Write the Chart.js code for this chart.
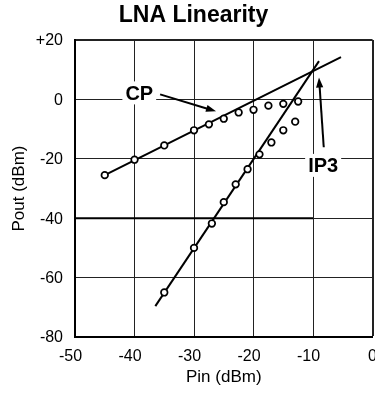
<!DOCTYPE html>
<html><head><meta charset="utf-8">
<script src="https://cdn.jsdelivr.net/npm/chart.js@4/dist/chart.umd.min.js"></script>
<style>html,body{margin:0;padding:0;background:#fff;overflow:hidden}canvas{display:block}</style>
</head><body>
<canvas id="c" width="387" height="393"></canvas>
<script>
// Fundamental output (measured points)
const pinFund  = [-45, -40, -35, -30, -27.5, -25, -22.5, -20, -17.5, -15, -12.5];
const poutFund = [-25.5, -20.3, -15.5, -10.4, -8.4, -6.5, -4.4, -3.5, -2.1, -1.5, -0.7];
// Third-order intermod output (measured points)
const pinIM3  = [-35, -30, -27, -25, -23, -21, -19, -17, -15, -13];
const poutIM3 = [-65, -50, -41.8, -34.6, -28.6, -23.5, -18.5, -14.5, -10.4, -7.5];
// Extrapolated straight-line fits
const fundFitX = [-45, -5.3];
const fundFitY = [-25.5, 14.2];
const im3FitX  = [-36.5, -9];
const im3FitY  = [-69.6, 12.9];
// Heavy reference line at -40 dBm
const refX = [-50, -10];
const refY = [-40, -40];
// Axis ticks
const xTicks = [-50, -40, -30, -20, -10, 0];
const yTicks = [-80, -60, -40, -20, 0, 20];
// Annotation labels (data coordinates)
const labelText = ['CP', 'IP3'];
const labelAt   = [[-39.2, 2.36], [-8.3, -22.05]];
const arrowFrom = [[-35.7, 1.7], [-8.2, -16.1]];
const arrowTo   = [[-26.3, -4.0], [-9.0, 7.4]];

const FAM = '"Liberation Sans", Arial, Helvetica, sans-serif';
const pts = (xs, ys) => xs.map((v, i) => ({x: v, y: ys[i]}));

const annotPlugin = {
  id: 'annot',
  afterDatasetsDraw(chart) {
    const {ctx, scales: {x, y}} = chart;
    ctx.save();
    labelText.forEach((t, i) => {
      const px = x.getPixelForValue(labelAt[i][0]);
      const py = y.getPixelForValue(labelAt[i][1]);
      const fs = 20;
      ctx.font = 'bold ' + fs + 'px ' + FAM;
      const w = ctx.measureText(t).width;
      ctx.fillStyle = '#fff';
      ctx.fillRect(px - w / 2 - 3, py - 11, w + 6, 23);
      ctx.fillStyle = '#000';
      ctx.textAlign = 'center';
      ctx.textBaseline = 'alphabetic';
      ctx.fillText(t, px, py + 0.36 * fs);
      // arrow
      const x0 = x.getPixelForValue(arrowFrom[i][0]), y0 = y.getPixelForValue(arrowFrom[i][1]);
      const x1 = x.getPixelForValue(arrowTo[i][0]),   y1 = y.getPixelForValue(arrowTo[i][1]);
      const ang = Math.atan2(y1 - y0, x1 - x0);
      const hl = 10, hw = 3.6;
      const bx = x1 - hl * Math.cos(ang), by = y1 - hl * Math.sin(ang);
      ctx.strokeStyle = '#000';
      ctx.lineWidth = 2;
      ctx.beginPath(); ctx.moveTo(x0, y0); ctx.lineTo(bx + Math.cos(ang), by + Math.sin(ang)); ctx.stroke();
      ctx.beginPath();
      ctx.moveTo(x1, y1);
      ctx.lineTo(bx - hw * Math.sin(ang), by + hw * Math.cos(ang));
      ctx.lineTo(bx + hw * Math.sin(ang), by - hw * Math.cos(ang));
      ctx.closePath(); ctx.fillStyle = '#000'; ctx.fill();
    });
    ctx.restore();
  }
};

const circleStyle = {showLine: false, pointRadius: 3.3, pointBorderWidth: 1.7,
  pointBackgroundColor: '#fff', pointBorderColor: '#000', pointStyle: 'circle'};
const lineStyle = {showLine: true, pointRadius: 0, borderColor: '#000', borderWidth: 2, fill: false, tension: 0};

new Chart(document.getElementById('c'), {
  type: 'scatter',
  data: {
    datasets: [
      Object.assign({label: 'Fundamental', data: pts(pinFund, poutFund)}, circleStyle),
      Object.assign({label: 'IM3', data: pts(pinIM3, poutIM3)}, circleStyle),
      Object.assign({label: 'Fund fit', data: pts(fundFitX, fundFitY)}, lineStyle),
      Object.assign({label: 'IM3 fit', data: pts(im3FitX, im3FitY)}, lineStyle),
      Object.assign({label: 'Ref', data: pts(refX, refY)}, lineStyle)
    ]
  },
  options: {
    responsive: false, animation: false, events: [],
    layout: {padding: {left: 11, right: 11, top: 0, bottom: 0}},
    plugins: {
      legend: {display: false}, tooltip: {enabled: false},
      title: {display: true, text: 'LNA Linearity', color: '#000',
        font: {family: FAM, size: 23, weight: 'bold', lineHeight: 1.2},
        padding: {top: 2, bottom: 10.4}}
    },
    scales: {
      x: {
        type: 'linear', min: -50, max: 0,
        afterBuildTicks: s => { s.ticks = xTicks.map(v => ({value: v})); },
        ticks: {color: '#000', font: {family: FAM, size: 16}, padding: 10, labelOffset: 0,
          maxRotation: 0, autoSkip: false,
          callback: v => v < 0 ? String(v) + '\u00a0\u00a0' : String(v)},
        grid: {color: '#222', drawTicks: false, lineWidth: c => (c.tick && c.tick.value === 0) ? 2 : 1},
        border: {color: '#000', width: 2},
        title: {display: true, text: 'Pin (dBm)', color: '#000',
          font: {family: FAM, size: 17, lineHeight: 1.2}, padding: {top: 0, bottom: 5}},
        afterFit: s => { s.height = 56; }
      },
      y: {
        type: 'linear', min: -80, max: 20,
        afterBuildTicks: s => { s.ticks = yTicks.map(v => ({value: v})); },
        ticks: {color: '#000', font: {family: FAM, size: 16}, padding: 12, labelOffset: 1,
          callback: v => v > 0 ? '+' + v : String(v)},
        grid: {color: '#222', drawTicks: false, lineWidth: c => (c.tick && c.tick.value === 20) ? 2 : 1},
        border: {color: '#000', width: 2},
        title: {display: true, text: 'Pout (dBm)', color: '#000',
          font: {family: FAM, size: 17, lineHeight: 1}, padding: {top: 0, bottom: 0}},
        afterFit: s => { s.width = 64; }
      }
    }
  },
  plugins: [annotPlugin]
});
</script>
</body></html>
